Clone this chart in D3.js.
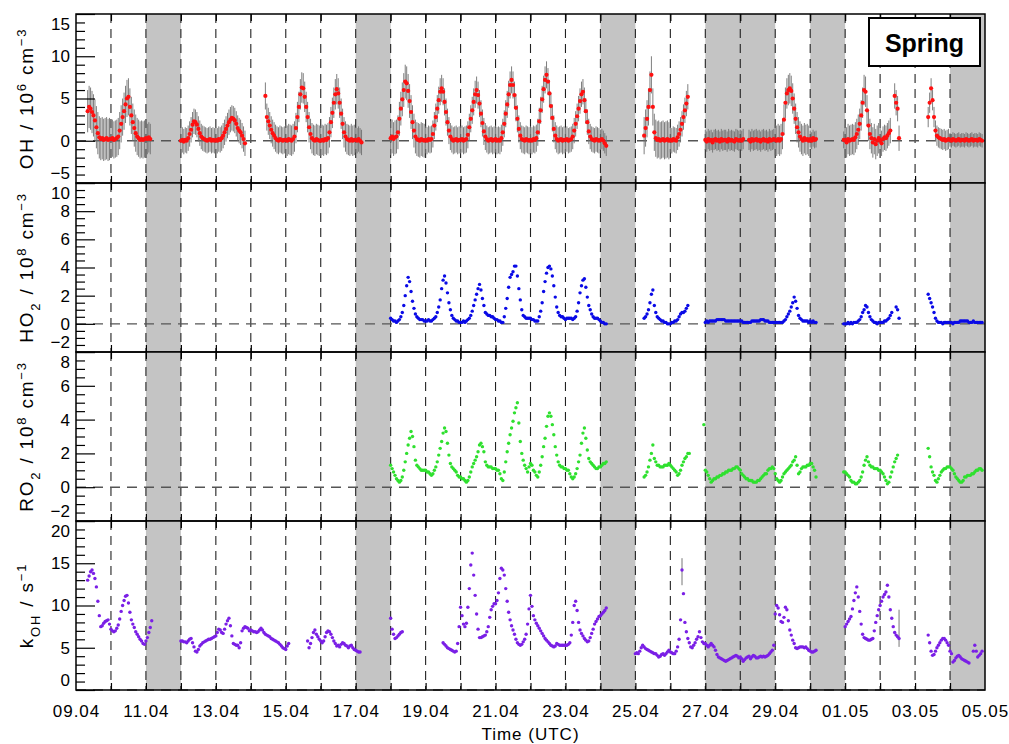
<!DOCTYPE html>
<html>
<head>
<meta charset="utf-8">
<script src="https://cdn.jsdelivr.net/npm/d3@7"></script>
<style>
  body { margin: 0; background: #fff; }
  svg text { font-family: "Liberation Sans", Arial, Helvetica, sans-serif; }
</style>
</head>
<body>
<svg id="chart" width="1009" height="744"></svg>
<script>
// ---------------------------------------------------------------------------
// Campaign period, shaded (no-measurement / special) days, axis ticks
// ---------------------------------------------------------------------------
const n = null;
const periodStart = "2019-04-09";
const periodEnd = "2019-05-05";

const shadedPeriods = [
  ["2019-04-11", "2019-04-12"],
  ["2019-04-17", "2019-04-18"],
  ["2019-04-24", "2019-04-25"],
  ["2019-04-27", "2019-04-29"],
  ["2019-04-30", "2019-05-01"],
  ["2019-05-04", "2019-05-05"]
];

const xTickDates = ["2019-04-09", "2019-04-11", "2019-04-13", "2019-04-15", "2019-04-17",
  "2019-04-19", "2019-04-21", "2019-04-23", "2019-04-25", "2019-04-27", "2019-04-29",
  "2019-05-01", "2019-05-03", "2019-05-05"];
const xTickLabels = ["09.04", "11.04", "13.04", "15.04", "17.04", "19.04", "21.04",
  "23.04", "25.04", "27.04", "29.04", "01.05", "03.05", "05.05"];

const ohRange = [-5, 15];
const ohTicks = [-5, 0, 5, 10, 15];
const ohMinorStep = 1;
const ho2Range = [-2, 10];
const ho2Ticks = [-2, 0, 2, 4, 6, 8, 10];
const ho2MinorStep = 0.5;
const ro2Range = [-2, 8];
const ro2Ticks = [-2, 0, 2, 4, 6, 8];
const ro2MinorStep = 0.5;
const kohRange = [0, 20];
const kohTicks = [0, 5, 10, 15, 20];
const kohMinorStep = 1;

// ---------------------------------------------------------------------------
// Hourly values, one row of 24 hours (00-23 UTC) per day
// ---------------------------------------------------------------------------
// OH in 1e6 cm-3, first row = 09.04
const ohStart = "2019-04-09";
const ohByDay = [
  [n,n,n,n,n,n,n,n,3.5,4.0,3.8,3.4,3.0,2.4,1.6,0.9,0.4,0.2,0.3,0.1,0.2,0.3,0.1,0.2],
  [0.2,0.3,0.1,0.2,0.3,0.5,1.2,2.0,2.8,3.5,4.3,5.0,5.2,4.0,3.0,2.2,1.5,0.9,0.5,0.3,0.1,0.2,0.1,0.2],
  [0.3,0.2,0.4,0.2,n,n,n,n,n,n,n,n,n,n,n,n,n,n,n,n,n,n,n,n],
  [0.0,0.1,-0.1,0.1,0.0,0.3,0.8,1.3,1.9,2.3,2.2,1.9,1.4,0.9,0.5,0.3,0.2,0.1,0.0,0.1,0.2,0.0,0.1,0.0],
  [0.1,0.0,0.2,0.1,0.3,0.6,1.0,1.4,1.8,2.2,2.5,2.7,2.6,2.4,2.0,1.5,1.2,1.0,0.6,0.2,-0.3,n,n,n],
  [n,n,n,n,n,n,n,n,n,n,5.3,2.8,2.3,1.8,1.3,0.9,0.6,0.3,0.1,0.0,0.2,0.1,0.0,0.1],
  [0.1,0.0,0.2,0.1,0.0,0.2,0.5,1.5,2.8,4.0,5.5,6.3,6.2,5.2,4.0,2.8,1.6,0.8,0.3,0.1,0.0,0.2,0.1,0.0],
  [0.0,0.1,0.0,0.2,0.1,0.3,1.0,2.2,3.3,4.5,5.5,6.1,5.6,4.5,3.2,2.0,1.0,0.5,0.2,0.1,0.0,0.2,0.0,0.1],
  [0.1,0.0,0.2,0.0,-0.2,n,n,n,n,n,n,n,n,n,n,n,n,n,n,n,n,n,n,n],
  [0.3,0.5,0.2,0.4,0.5,1.0,2.6,3.8,4.9,6.0,7.0,6.8,5.9,4.7,3.4,2.2,1.2,0.5,0.2,0.1,0.0,0.2,0.1,0.0],
  [0.1,0.0,0.2,0.1,0.2,0.8,1.8,2.8,3.8,4.8,5.8,6.2,5.8,4.6,3.4,2.2,1.2,0.5,0.2,0.0,0.1,0.2,0.0,0.1],
  [0.1,0.2,0.0,0.1,0.2,0.7,1.6,2.6,3.6,4.6,5.5,6.0,5.4,4.4,3.2,2.1,1.1,0.5,0.2,0.0,0.1,0.2,0.0,0.1],
  [0.2,0.0,0.1,0.0,0.3,1.0,2.0,3.2,4.3,5.5,6.6,7.2,6.6,5.4,3.9,2.6,1.4,0.6,0.2,0.1,0.0,0.2,0.1,0.0],
  [0.1,0.0,0.2,0.1,0.3,1.0,2.3,3.6,4.9,6.1,7.2,7.8,7.0,5.6,4.1,2.7,1.4,0.6,0.2,0.0,0.1,0.2,0.0,0.1],
  [0.1,0.2,0.0,0.1,0.2,0.5,1.2,2.0,2.9,3.8,4.7,5.5,5.8,4.8,3.5,2.2,1.1,0.5,0.2,0.1,0.0,0.2,0.1,0.0],
  [0.1,0.2,0.0,-0.3,-0.6,n,n,n,n,n,n,n,n,n,n,n,n,n,n,n,n,n,n,n],
  [n,n,n,n,n,n,0.6,1.5,2.6,4.0,6.0,7.8,4.0,1.0,0.3,0.1,0.2,0.0,0.1,0.2,0.0,0.1,0.2,0.0],
  [0.1,0.0,0.2,0.1,0.0,0.4,0.8,1.3,2.0,2.8,3.6,4.4,5.2,n,n,n,n,n,n,n,n,n,n,n],
  [0.1,-0.1,0.2,0.0,0.1,-0.2,0.1,0.2,0.0,0.1,-0.1,0.2,0.0,0.1,0.1,-0.1,0.2,0.0,0.1,0.0,-0.1,0.2,0.1,0.0],
  [0.1,0.0,0.2,n,n,n,0.1,-0.1,0.2,0.0,0.1,0.2,0.0,0.1,-0.1,0.1,0.2,0.0,0.1,-0.1,0.2,0.0,0.1,0.2],
  [0.1,0.0,0.2,0.0,0.2,0.8,2.5,4.5,5.6,6.0,6.2,5.9,5.0,3.8,2.6,1.6,1.0,0.5,0.2,0.0,0.3,0.1,0.2,0.0],
  [0.2,0.0,0.3,0.1,0.2,n,n,n,n,n,n,n,n,n,n,n,n,n,n,n,n,n,n,0.1],
  [0.1,-0.2,0.2,0.0,0.1,0.2,0.1,0.4,0.8,1.3,2.0,3.0,4.5,6.0,5.8,3.6,1.8,0.8,0.3,-0.2,0.2,-0.4,0.0,0.3],
  [0.0,-0.3,0.2,0.4,0.3,0.6,0.9,1.2,n,n,5.3,4.5,3.8,0.3,n,n,n,n,n,n,n,n,n,n],
  [n,n,n,n,n,n,n,n,n,2.8,4.5,6.2,4.8,2.8,1.2,0.6,0.4,0.3,0.2,0.1,0.2,0.0,0.1,0.2],
  [0.1,0.0,0.2,0.1,0.0,0.1,0.2,0.0,0.1,0.1,0.0,0.2,0.1,0.0,0.1,0.2,0.0,0.1,0.1,0.0,0.2,0.1,0.0,n]
];
// OH 1-sigma spread per day (1e6 cm-3)
const ohSpreadByDay = [2.5, 2.2, 1.8, 1.5, 1.5, 1.6, 1.8, 1.8, 1.5, 2.0, 1.6, 1.6, 1.6,
  1.6, 1.5, 1.2, 2.2, 1.5, 1.2, 1.2, 1.8, 1.0, 1.8, 1.5, 1.2, 0.8];

// HO2 in 1e8 cm-3, first row = 18.04
const ho2Start = "2019-04-18";
const ho2ByDay = [
  [0.4,0.3,0.2,0.2,0.1,0.2,0.3,0.5,0.8,1.3,2.0,2.7,3.3,3.0,2.3,1.6,1.1,0.7,0.5,0.4,0.3,0.3,0.3,0.2],
  [0.2,0.2,0.3,0.2,0.2,0.3,0.4,0.5,0.8,1.2,1.7,2.5,3.1,3.4,2.9,2.2,1.5,1.0,0.6,0.4,0.3,0.2,0.2,0.1],
  [0.1,0.1,0.2,0.1,0.2,0.3,0.4,0.6,0.9,1.3,1.7,2.1,2.5,2.8,2.4,1.8,1.3,0.8,0.7,0.6,0.6,0.5,0.5,0.4],
  [0.3,0.3,0.2,0.2,0.1,0.1,0.5,1.1,1.8,2.6,3.3,3.5,3.7,4.1,4.1,3.4,2.5,1.7,1.0,0.6,0.5,0.4,0.4,0.4],
  [0.4,0.3,0.3,0.2,0.2,0.2,0.5,0.9,1.5,2.3,3.0,3.6,4.0,4.1,3.9,3.4,2.7,1.9,1.2,0.8,0.6,0.5,0.5,0.4],
  [0.3,0.4,0.4,0.4,0.4,0.3,0.4,0.5,0.9,1.5,2.2,2.7,3.1,3.2,2.6,1.9,1.3,1.0,0.7,0.5,0.4,0.4,0.4,0.3],
  [0.2,0.1,0.1,0.0,0.0,n,n,n,n,n,n,n,n,n,n,n,n,n,n,n,n,n,n,n],
  [n,n,n,n,n,n,0.4,0.5,0.7,1.0,1.5,2.1,2.4,1.3,0.8,0.5,0.4,0.3,0.2,0.2,0.1,0.1,0.0,0.0],
  [0.0,0.1,0.1,0.2,0.2,0.3,0.5,0.7,0.8,0.8,0.9,1.1,1.3,n,n,n,n,n,n,n,n,n,n,n],
  [0.1,0.2,0.1,0.2,0.2,0.2,0.2,0.2,0.3,0.3,0.3,0.3,0.3,0.3,0.2,0.2,0.2,0.2,0.2,0.2,0.2,0.2,0.2,0.2],
  [0.2,0.2,0.1,0.1,0.1,0.1,0.1,0.1,0.2,0.2,0.2,0.2,0.2,0.2,0.3,0.3,0.3,0.2,0.2,0.2,0.1,0.1,0.1,0.1],
  [0.1,0.1,0.1,0.1,0.1,0.1,0.2,0.3,0.5,0.7,0.9,1.2,1.5,1.9,1.6,1.1,0.6,0.4,0.3,0.2,0.2,0.2,0.2,0.1],
  [0.2,0.1,0.2,0.1,0.1,n,n,n,n,n,n,n,n,n,n,n,n,n,n,n,n,n,n,0.0],
  [0.0,0.0,0.1,0.0,0.1,0.0,0.1,0.1,0.1,0.2,0.3,0.5,0.8,1.0,1.3,1.2,0.8,0.5,0.3,0.2,0.1,0.1,0.0,0.1],
  [0.1,0.1,0.1,0.2,0.2,0.3,0.4,0.6,0.8,n,n,1.2,1.0,0.4,n,n,n,n,n,n,n,n,n,n],
  [n,n,n,n,n,n,n,n,n,2.1,1.8,1.5,1.2,0.8,0.4,0.2,0.1,0.1,0.1,0.0,0.1,0.1,0.1,0.1],
  [0.1,0.1,0.0,0.1,0.1,0.1,0.1,0.2,0.2,0.2,0.2,0.2,0.2,0.1,0.1,0.1,0.2,0.1,0.1,0.1,0.1,0.1,0.1,n]
];

// RO2 in 1e8 cm-3, first row = 18.04
const ro2Start = "2019-04-18";
const ro2ByDay = [
  [1.3,1.1,0.9,0.7,0.5,0.4,0.3,0.4,0.6,1.0,1.5,2.0,2.5,2.9,3.3,3.0,2.4,1.6,1.3,1.2,1.1,1.0,1.0,1.0],
  [1.0,0.9,0.9,0.8,0.7,0.8,1.0,1.2,1.5,1.9,2.3,2.7,3.2,3.5,3.3,2.6,1.9,1.4,1.2,1.1,1.0,0.9,0.7,0.6],
  [0.6,0.5,0.5,0.4,0.3,0.4,0.6,0.9,1.2,1.4,1.6,1.8,2.1,2.5,2.6,2.4,2.1,1.5,1.3,1.2,1.2,1.2,1.1,1.1],
  [1.1,1.0,1.0,0.8,0.5,0.4,0.9,1.5,2.1,2.6,3.1,3.5,3.9,4.4,4.7,5.0,3.8,2.7,2.0,1.6,1.3,1.1,0.9,1.2],
  [1.4,1.3,1.0,0.9,0.7,0.6,0.9,1.3,1.8,2.4,2.9,3.6,4.2,4.4,4.2,3.7,3.1,2.4,1.9,1.5,1.3,1.2,1.2,1.1],
  [1.1,1.0,1.0,0.8,0.6,0.5,0.6,0.8,1.1,1.5,1.9,2.6,3.2,3.5,2.9,2.2,1.7,1.5,1.4,1.3,1.2,1.1,1.1,1.2],
  [1.2,1.3,1.4,1.4,1.5,n,n,n,n,n,n,n,n,n,n,n,n,n,n,n,n,n,n,n],
  [n,n,n,n,n,n,0.6,0.7,0.9,1.2,1.6,2.0,2.5,1.7,1.5,1.3,1.3,1.2,1.2,1.2,1.3,1.3,1.3,1.4],
  [1.3,1.2,1.1,1.0,0.9,0.7,0.8,1.0,1.3,1.5,1.7,1.8,2.0,2.0,n,n,n,n,n,n,n,n,n,3.7],
  [1.0,0.9,0.7,0.5,0.3,0.4,0.5,0.5,0.6,0.6,0.7,0.7,0.8,0.8,0.9,0.9,1.0,1.0,1.0,1.1,1.1,1.2,1.2,1.1],
  [1.0,0.8,0.7,0.6,0.5,0.5,0.4,0.4,0.4,0.3,0.3,0.3,0.4,0.4,0.5,0.6,0.7,0.8,0.8,1.0,1.1,1.1,1.2,1.1],
  [0.8,0.5,0.4,0.3,0.4,0.6,0.8,0.9,1.0,1.1,1.2,1.3,1.5,1.6,1.8,1.3,0.8,0.9,1.1,1.2,1.2,1.2,1.3,1.3],
  [1.4,1.4,1.2,1.0,0.6,n,n,n,n,n,n,n,n,n,n,n,n,n,n,n,n,n,n,0.9],
  [0.9,0.8,0.7,0.6,0.4,0.3,0.3,0.2,0.2,0.3,0.4,0.6,0.9,1.3,1.6,1.8,1.5,1.3,1.2,1.2,1.1,1.1,1.1,1.0],
  [1.0,0.9,0.8,0.6,0.4,0.2,0.3,0.6,0.9,1.2,1.5,1.7,1.9,n,n,n,n,n,n,n,n,n,n,n],
  [n,n,n,n,n,n,n,n,n,2.3,1.8,1.2,0.9,0.7,0.4,0.3,0.5,0.7,0.9,1.0,1.1,1.1,1.2,1.2],
  [1.2,1.1,1.0,0.8,0.6,0.5,0.4,0.3,0.3,0.4,0.6,0.6,0.7,0.7,0.7,0.8,0.8,0.9,1.0,1.0,1.1,1.1,1.0,n]
];

// OH reactivity kOH in s-1, first row = 09.04
const kohStart = "2019-04-09";
const kohByDay = [
  [n,n,n,n,n,n,n,n,13.0,13.5,14.0,14.2,13.8,13.2,12.2,10.5,8.8,7.5,7.6,7.9,8.1,8.2,8.3,7.8],
  [7.2,7.0,6.9,7.0,7.3,7.7,8.4,9.3,10.0,10.6,11.1,11.2,10.3,9.2,8.3,7.8,7.4,6.9,6.6,6.3,6.0,5.8,5.5,5.4],
  [5.8,6.2,6.8,7.4,8.2,n,n,n,n,n,n,n,n,n,n,n,n,n,n,n,n,n,n,n],
  [5.8,5.8,5.7,5.7,5.6,5.8,6.0,6.1,5.6,5.1,4.6,4.5,4.8,5.2,5.4,5.6,5.7,5.8,5.9,6.0,6.0,6.1,6.2,6.3],
  [6.4,6.8,7.2,7.1,6.8,6.7,7.2,7.8,8.2,8.5,7.6,6.4,5.5,5.4,5.3,5.3,5.0,5.6,7.0,7.3,7.5,7.4,7.3,7.0],
  [7.1,7.0,6.9,6.9,6.8,6.9,7.1,7.3,7.1,6.8,6.6,6.5,6.4,6.3,6.1,6.0,5.9,5.8,5.7,5.6,5.4,5.2,5.0,4.9],
  [4.8,5.2,5.5,n,n,n,n,n,n,n,n,n,n,n,n,5.8,5.0,5.5,6.2,6.8,7.1,6.6,6.3,6.0],
  [5.8,5.6,5.8,6.3,6.8,7.0,6.9,6.6,6.2,5.8,5.5,5.2,5.3,5.1,5.4,5.6,5.5,5.3,5.2,5.0,5.2,5.3,5.0,4.8],
  [4.7,4.6,4.5,4.5,n,n,n,n,n,n,n,n,n,n,n,n,n,n,n,n,n,n,n,n],
  [8.5,7.2,6.6,6.1,6.2,6.4,6.6,6.8,6.9,n,n,n,n,n,n,n,n,n,n,n,n,n,n,n],
  [n,n,n,n,n,n,n,n,n,n,n,n,5.6,5.4,5.2,5.0,4.9,4.8,4.7,4.6,4.5,4.6,5.5,7.5],
  [9.8,8.8,7.8,7.5,7.9,9.8,12.0,14.8,16.2,13.6,11.2,9.0,7.2,6.2,6.2,6.3,6.4,6.5,6.9,7.5,8.6,9.5,9.9,10.2],
  [10.2,10.6,11.5,13.2,14.4,14.2,13.6,12.0,10.5,9.2,8.3,7.6,7.1,6.6,6.0,5.6,5.4,5.3,5.4,5.7,6.0,6.6,7.8,9.6],
  [11.2,9.9,8.8,8.3,7.9,7.6,7.3,7.0,6.7,6.4,6.1,5.9,5.7,5.5,5.3,5.2,5.1,5.2,5.5,5.4,5.3,5.3,5.3,5.3],
  [5.3,5.3,5.4,5.6,6.5,8.0,10.0,10.5,9.4,8.0,7.1,6.7,6.4,6.1,5.9,5.7,5.8,6.2,6.7,7.2,7.8,8.1,8.4,8.7],
  [8.8,9.0,9.2,9.4,9.7,n,n,n,n,n,n,n,n,n,n,n,n,n,n,n,n,n,n,n],
  [4.3,4.4,4.3,4.6,5.0,5.3,5.1,4.9,4.8,4.7,4.6,4.5,4.4,4.3,4.3,4.1,3.9,4.0,4.2,4.3,4.1,4.3,4.5,4.7],
  [4.5,4.4,4.3,4.3,4.6,5.1,6.0,8.3,14.2,11.4,8.0,6.9,6.1,5.6,5.1,5.0,5.3,5.6,6.0,6.3,6.9,6.2,5.7,5.5],
  [5.5,5.3,5.1,5.3,5.5,5.3,5.1,4.7,4.2,3.9,3.8,3.7,3.6,3.5,3.4,3.5,3.6,3.7,3.8,3.9,4.0,4.1,4.0,3.8],
  [3.9,3.7,3.4,3.6,3.8,3.9,4.0,3.7,3.9,4.1,4.0,3.8,3.8,3.9,4.0,3.9,4.0,3.9,4.0,4.1,4.3,4.5,4.7,5.3],
  [9.0,10.0,9.7,8.9,8.1,8.0,8.6,9.8,9.5,8.2,7.1,6.5,5.9,5.5,5.0,4.9,5.0,5.1,5.1,5.1,5.0,5.1,4.9,4.7],
  [4.6,4.5,4.5,4.6,4.7,n,n,n,n,n,n,n,n,n,n,n,n,n,n,n,n,n,n,n],
  [7.5,7.8,8.1,8.4,8.7,9.6,10.6,11.5,12.2,11.0,9.3,7.8,6.6,6.2,6.1,6.0,5.9,5.9,6.0,6.1,7.0,8.0,8.8,9.5],
  [10.0,10.5,11.0,11.3,11.6,12.4,11.0,9.5,8.5,7.5,6.8,6.5,6.3,6.1,n,n,n,n,n,n,n,n,n,n],
  [n,n,n,n,n,n,n,n,n,6.5,5.6,4.6,4.1,4.2,4.6,5.0,5.3,5.6,5.9,6.1,6.1,5.9,5.6,5.3],
  [4.6,4.3,3.3,3.5,3.8,4.0,4.1,3.9,3.7,3.6,3.5,3.4,3.3,3.2,n,n,4.6,5.3,4.6,3.9,4.1,4.3,4.6,n]
];
// kOH values with a large measurement spread: time, low, high
const kohSpread = [
  ["2019-04-26T08:00:00Z", 12.4, 15.6],
  ["2019-05-02T13:00:00Z", 5.1, 9.5]
];

// ---------------------------------------------------------------------------
// Layout
// ---------------------------------------------------------------------------
const plotLeft = 76, plotRight = 985, plotTop = 14, panelHeight = 169;
const font = '"Liberation Sans", Arial, Helvetica, sans-serif';
const parseDay = d3.utcParse("%Y-%m-%d");
const parseTime = d3.isoParse;

function toPoints(startStr, rows) {
  const t0 = parseDay(startStr).getTime();
  const pts = [];
  rows.forEach((row, day) => row.forEach((v, hour) => {
    if (v !== null) pts.push({ t: new Date(t0 + (day * 24 + hour) * 3600e3), v, day });
  }));
  return pts;
}

const svg = d3.select("#chart");
const x = d3.scaleUtc()
  .domain([parseDay(periodStart), parseDay(periodEnd)])
  .range([plotLeft, plotRight]);
const allDays = d3.utcDay.range(parseDay(periodStart), d3.utcDay.offset(parseDay(periodEnd), 1));
const innerDays = allDays.filter(d => d > x.domain()[0] && d < x.domain()[1]);

const panels = [
  { id: "oh", range: ohRange, ticks: ohTicks, minor: ohMinorStep,
    points: toPoints(ohStart, ohByDay), color: "#ff1010", r: 2.1,
    title: [["OH / 10", 0], ["6", 1], [" cm", 0], ["\u22123", 1]] },
  { id: "ho2", range: ho2Range, ticks: ho2Ticks, minor: ho2MinorStep,
    points: toPoints(ho2Start, ho2ByDay), color: "#0a0ae6", r: 1.7,
    title: [["HO", 0], ["2", -1], [" / 10", 0], ["8", 1], [" cm", 0], ["\u22123", 1]] },
  { id: "ro2", range: ro2Range, ticks: ro2Ticks, minor: ro2MinorStep,
    points: toPoints(ro2Start, ro2ByDay), color: "#2fe02f", r: 1.7,
    title: [["RO", 0], ["2", -1], [" / 10", 0], ["8", 1], [" cm", 0], ["\u22123", 1]] },
  { id: "koh", range: kohRange, ticks: kohTicks, minor: kohMinorStep,
    points: toPoints(kohStart, kohByDay), color: "#7a1fe6", r: 1.7,
    title: [["k", 0], ["OH", -1], [" / s", 0], ["\u22121", 1]] }
];

const defs = svg.append("defs");

panels.forEach((p, i) => {
  const y0 = plotTop + i * panelHeight;
  const y1 = y0 + panelHeight;
  const y = d3.scaleLinear().domain(p.range).range([y1, y0]);
  const g = svg.append("g").attr("class", "panel-" + p.id);

  defs.append("clipPath").attr("id", "clip-" + p.id)
    .append("rect").attr("x", plotLeft).attr("y", y0)
    .attr("width", plotRight - plotLeft).attr("height", panelHeight);

  // shaded days
  g.append("g").selectAll("rect").data(shadedPeriods).join("rect")
    .attr("x", d => x(parseDay(d[0])))
    .attr("width", d => x(parseDay(d[1])) - x(parseDay(d[0])))
    .attr("y", y0).attr("height", panelHeight)
    .attr("fill", "#c4c4c4");

  // dashed midnight lines
  g.append("g").selectAll("line").data(innerDays).join("line")
    .attr("x1", d => x(d)).attr("x2", d => x(d))
    .attr("y1", y0).attr("y2", y1)
    .attr("stroke", "#222").attr("stroke-width", 1.1)
    .attr("stroke-dasharray", "9,6");

  // zero line
  g.append("line")
    .attr("x1", plotLeft).attr("x2", plotRight)
    .attr("y1", y(0)).attr("y2", y(0))
    .attr("stroke", "#555").attr("stroke-width", 1.4)
    .attr("stroke-dasharray", "10,7");

  const data = g.append("g").attr("clip-path", `url(#clip-${p.id})`);

  if (p.id === "oh") {
    data.append("g").selectAll("line").data(p.points).join("line")
      .attr("x1", d => x(d.t)).attr("x2", d => x(d.t))
      .attr("y1", d => y(d.v - ohSpreadByDay[d.day]))
      .attr("y2", d => y(d.v + ohSpreadByDay[d.day]))
      .attr("stroke", "#707070").attr("stroke-width", 0.9);
  }
  if (p.id === "koh") {
    data.append("g").selectAll("line").data(kohSpread).join("line")
      .attr("x1", d => x(parseTime(d[0]))).attr("x2", d => x(parseTime(d[0])))
      .attr("y1", d => y(d[1])).attr("y2", d => y(d[2]))
      .attr("stroke", "#777").attr("stroke-width", 1);
  }

  data.append("g").selectAll("circle").data(p.points).join("circle")
    .attr("cx", d => x(d.t)).attr("cy", d => y(d.v))
    .attr("r", p.r).attr("fill", p.color);

  // frame
  g.append("rect")
    .attr("x", plotLeft).attr("y", y0)
    .attr("width", plotRight - plotLeft).attr("height", panelHeight)
    .attr("fill", "none").attr("stroke", "#000").attr("stroke-width", 1.5);

  // day ticks on top and bottom edges
  g.append("g").attr("transform", `translate(0,${y1})`)
    .call(d3.axisBottom(x).tickValues(innerDays).tickSize(-7).tickFormat(""))
    .call(a => a.select(".domain").remove())
    .selectAll("line").attr("stroke", "#000").attr("stroke-width", 1.2);
  g.append("g").attr("transform", `translate(0,${y0})`)
    .call(d3.axisTop(x).tickValues(innerDays).tickSize(-7).tickFormat(""))
    .call(a => a.select(".domain").remove())
    .selectAll("line").attr("stroke", "#000").attr("stroke-width", 1.2);

  // y axis: minor ticks
  const minorVals = d3.range(p.range[0], p.range[1] + p.minor / 2, p.minor)
    .filter(v => !p.ticks.includes(+v.toFixed(6)));
  g.append("g").attr("transform", `translate(${plotLeft},0)`)
    .call(d3.axisLeft(y).tickValues(minorVals).tickSize(-9).tickFormat(""))
    .call(a => a.select(".domain").remove())
    .selectAll("line").attr("stroke", "#000").attr("stroke-width", 1.2);

  // y axis: major ticks and labels (end labels pulled inside the panel)
  const yAxis = g.append("g").attr("transform", `translate(${plotLeft},0)`)
    .call(d3.axisLeft(y).tickValues(p.ticks).tickSize(-19).tickPadding(6)
      .tickFormat(d => d < 0 ? "\u2212" + Math.abs(d) : String(d)))
    .call(a => a.select(".domain").remove());
  yAxis.selectAll("line").attr("stroke", "#000").attr("stroke-width", 1.2);
  yAxis.selectAll("text")
    .attr("font-family", font).attr("font-size", 17).attr("fill", "#000")
    .attr("transform", d => d === p.range[1] ? "translate(0,10)" : d === p.range[0] ? "translate(0,-10)" : null);

  // y title
  const yc = (y0 + y1) / 2;
  const title = g.append("text")
    .attr("transform", `translate(33,${yc}) rotate(-90)`)
    .attr("text-anchor", "middle")
    .attr("font-family", font).attr("font-size", 19)
    .attr("letter-spacing", 1.8).attr("fill", "#000");
  p.title.forEach(([s, shift], k) => {
    const ts = title.append("tspan").text(s);
    if (shift !== 0) ts.attr("font-size", 13);
    const prev = k > 0 ? p.title[k - 1][1] : 0;
    const dy = (shift - prev) * -7;
    if (dy !== 0) ts.attr("dy", dy);
  });
});

// bottom date labels
const bottom = plotTop + 4 * panelHeight;
svg.append("g").attr("transform", `translate(0,${bottom})`)
  .call(d3.axisBottom(x).tickValues(xTickDates.map(parseDay)).tickSize(0).tickPadding(15)
    .tickFormat((d, i) => xTickLabels[i]))
  .call(a => a.select(".domain").remove())
  .selectAll("text")
  .attr("font-family", font).attr("font-size", 17).attr("letter-spacing", 1)
  .attr("fill", "#000");

svg.append("text")
  .attr("x", (plotLeft + plotRight) / 2).attr("y", 740)
  .attr("text-anchor", "middle")
  .attr("font-family", font).attr("font-size", 17).attr("letter-spacing", 1)
  .text("Time (UTC)");

// season label
svg.append("rect")
  .attr("x", 869).attr("y", 18).attr("width", 111).attr("height", 48)
  .attr("fill", "#fff").attr("stroke", "#000").attr("stroke-width", 2);
svg.append("text")
  .attr("x", 924.5).attr("y", 52).attr("text-anchor", "middle")
  .attr("font-family", font).attr("font-size", 25).attr("font-weight", "bold")
  .text("Spring");
</script>
</body>
</html>
